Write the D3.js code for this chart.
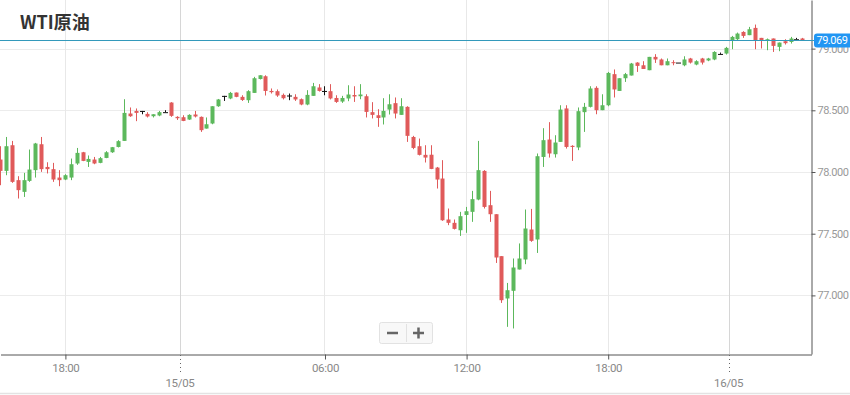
<!DOCTYPE html>
<html>
<head>
<meta charset="utf-8">
<script src="https://cdn.jsdelivr.net/npm/d3@7"></script>
<style>
    body { margin: 0; background: #fff; }
    svg { display: block; font-family: Roboto, "Noto Sans", sans-serif; }
</style>
</head>
<body>
<svg id="chart" width="850" height="395"></svg>
<script>
// WTI 15 min candles, 14/05 15:15 -> 16/05 03:00 (trading gap skipped)
const opens = [
    78.101, 78.009, 78.217, 77.934, 77.839, 77.928, 78.015, 78.225, 78.041, 78.023,
    77.955, 77.939, 77.955, 78.069, 78.160, 78.082, 78.101, 78.074, 78.114, 78.160,
    78.203, 78.252, 78.474, 78.495, 78.495, 78.471, 78.452, 78.458, 78.485, 78.563,
    78.447, 78.444, 78.425, 78.466, 78.447, 78.352, 78.393, 78.533, 78.617, 78.596,
    78.644, 78.609, 78.582, 78.641, 78.754, 78.776, 78.657, 78.655, 78.625, 78.620,
    78.609, 78.590, 78.547, 78.617, 78.685, 78.657, 78.655, 78.600, 78.571, 78.596,
    78.624, 78.614, 78.614, 78.485, 78.460, 78.442, 78.506, 78.558, 78.463, 78.528,
    78.284, 78.209, 78.139, 78.140, 78.036, 77.947, 77.615, 77.588, 77.528, 77.652,
    77.677, 77.777, 78.009, 77.731, 77.658, 77.318, 76.975, 77.037, 77.210, 77.291,
    77.534, 77.453, 78.122, 78.263, 78.144, 78.244, 78.515, 78.212, 78.199, 78.485,
    78.528, 78.682, 78.501, 78.541, 78.793, 78.657, 78.760, 78.782, 78.887, 78.865,
    78.825, 78.933, 78.912, 78.865, 78.890, 78.887, 78.865, 78.920, 78.871, 78.920,
    78.904, 78.912, 78.957, 78.960, 79.068, 79.076, 79.135, 79.109, 79.168, 79.087,
    79.066, 79.082, 79.014, 79.060, 79.054, 79.076, 79.082
];
const highs = [
    78.209, 78.284, 78.252, 77.966, 77.993, 78.182, 78.236, 78.284, 78.079, 78.074,
    78.015, 77.982, 78.109, 78.195, 78.163, 78.134, 78.122, 78.122, 78.169, 78.203,
    78.258, 78.590, 78.523, 78.515, 78.495, 78.485, 78.468, 78.495, 78.501, 78.566,
    78.452, 78.460, 78.468, 78.495, 78.450, 78.442, 78.533, 78.592, 78.617, 78.649,
    78.644, 78.622, 78.663, 78.771, 78.784, 78.784, 78.677, 78.669, 78.636, 78.636,
    78.630, 78.596, 78.663, 78.722, 78.712, 78.695, 78.712, 78.622, 78.617, 78.703,
    78.695, 78.712, 78.630, 78.566, 78.509, 78.598, 78.630, 78.604, 78.598, 78.533,
    78.293, 78.271, 78.217, 78.217, 78.041, 78.096, 77.704, 77.615, 77.677, 77.717,
    77.847, 78.252, 78.015, 77.847, 77.658, 77.318, 77.101, 77.299, 77.421, 77.696,
    77.701, 78.150, 78.355, 78.404, 78.298, 78.541, 78.541, 78.217, 78.523, 78.560,
    78.695, 78.695, 78.630, 78.811, 78.831, 78.760, 78.803, 78.884, 78.890, 78.898,
    78.933, 78.955, 78.920, 78.920, 78.906, 78.887, 78.938, 78.925, 78.906, 78.925,
    78.925, 78.979, 78.968, 79.014, 79.103, 79.130, 79.141, 79.176, 79.195, 79.087,
    79.082, 79.082, 79.049, 79.076, 79.095, 79.087, 79.087
];
const lows = [
    77.893, 77.974, 77.912, 77.785, 77.798, 77.920, 77.955, 78.001, 77.988, 77.920,
    77.885, 77.934, 77.934, 78.058, 78.088, 78.041, 78.063, 78.071, 78.112, 78.155,
    78.199, 78.252, 78.447, 78.412, 78.468, 78.442, 78.442, 78.452, 78.485, 78.447,
    78.422, 78.412, 78.422, 78.442, 78.325, 78.352, 78.387, 78.528, 78.576, 78.590,
    78.606, 78.576, 78.560, 78.641, 78.750, 78.620, 78.636, 78.609, 78.588, 78.582,
    78.576, 78.541, 78.541, 78.617, 78.652, 78.622, 78.588, 78.560, 78.560, 78.574,
    78.568, 78.590, 78.442, 78.434, 78.366, 78.385, 78.466, 78.434, 78.463, 78.244,
    78.185, 78.134, 78.077, 78.023, 77.866, 77.604, 77.569, 77.534, 77.482, 77.507,
    77.596, 77.771, 77.704, 77.596, 77.263, 76.939, 76.745, 76.732, 77.210, 77.253,
    77.434, 77.344, 78.041, 78.117, 78.117, 78.244, 78.190, 78.090, 78.177, 78.325,
    78.523, 78.468, 78.501, 78.533, 78.604, 78.657, 78.730, 78.782, 78.811, 78.835,
    78.825, 78.884, 78.865, 78.865, 78.865, 78.887, 78.857, 78.879, 78.865, 78.871,
    78.898, 78.906, 78.957, 78.952, 78.995, 79.068, 79.087, 79.109, 78.995, 79.001,
    78.987, 78.973, 78.979, 79.033, 79.041, 79.076, 79.066
];
const closes = [
    78.009, 78.209, 77.920, 77.853, 77.934, 78.020, 78.231, 78.023, 78.023, 77.939,
    77.934, 77.974, 78.063, 78.155, 78.090, 78.106, 78.069, 78.112, 78.160, 78.201,
    78.250, 78.479, 78.452, 78.479, 78.495, 78.450, 78.468, 78.485, 78.485, 78.455,
    78.436, 78.414, 78.463, 78.450, 78.339, 78.387, 78.533, 78.588, 78.617, 78.641,
    78.609, 78.584, 78.655, 78.760, 78.784, 78.657, 78.647, 78.620, 78.598, 78.620,
    78.588, 78.547, 78.625, 78.695, 78.657, 78.657, 78.596, 78.568, 78.600, 78.628,
    78.612, 78.628, 78.487, 78.463, 78.438, 78.495, 78.549, 78.474, 78.533, 78.293,
    78.195, 78.139, 78.117, 78.025, 77.939, 77.609, 77.588, 77.539, 77.642, 77.682,
    77.780, 78.015, 77.717, 77.658, 77.307, 76.961, 77.042, 77.226, 77.299, 77.542,
    77.442, 78.128, 78.258, 78.150, 78.239, 78.506, 78.203, 78.203, 78.493, 78.528,
    78.677, 78.501, 78.541, 78.803, 78.669, 78.760, 78.793, 78.879, 78.860, 78.835,
    78.933, 78.912, 78.865, 78.898, 78.884, 78.887, 78.912, 78.887, 78.898, 78.887,
    78.920, 78.973, 78.957, 79.006, 79.095, 79.122, 79.103, 79.157, 79.068, 79.068,
    79.076, 79.022, 79.049, 79.044, 79.082, 79.076, 79.069
];

const yTicks = [77.0, 77.5, 78.0, 78.5, 79.0];
const timeTickLabels = ["18:00", "06:00", "12:00", "18:00"];
const timeTickIdx = [11, 55, 79, 103];
const dateTickLabels = ["15/05", "16/05"];
const dateTickIdx = [30.5, 123.5];
const lastPrice = 79.069;
const title = "WTI原油";

const svg = d3.select("#chart");
const attr_area = { width: 850, height: 395, plotRight: 811, plotBottom: 354 };

const candles = opens.map((o, i) => ({ i: i, o: o, h: highs[i], l: lows[i], c: closes[i] }));

const scaleX = d3.scaleLinear()
    .domain([0, 137.46])
    .range([0, attr_area.plotRight]);

const scaleY = d3.scaleLinear()
    .domain([76.525, 79.394])
    .range([attr_area.plotBottom, 0]);

// grid
const grid = svg.append("g");
grid.selectAll(".hgrid")
    .data(yTicks)
    .enter()
    .append("line")
    .attr("x1", 0)
    .attr("x2", attr_area.plotRight)
    .attr("y1", d => Math.round(scaleY(d)) + 0.5)
    .attr("y2", d => Math.round(scaleY(d)) + 0.5)
    .attr("stroke", "#ececec");

grid.selectAll(".vgrid")
    .data(timeTickIdx)
    .enter()
    .append("line")
    .attr("x1", d => Math.round(scaleX(d)) + 0.5)
    .attr("x2", d => Math.round(scaleX(d)) + 0.5)
    .attr("y1", 0)
    .attr("y2", attr_area.plotBottom)
    .attr("stroke", "#e8e8e8");

grid.selectAll(".dgrid")
    .data(dateTickIdx)
    .enter()
    .append("line")
    .attr("x1", d => Math.round(scaleX(d)) + 0.5)
    .attr("x2", d => Math.round(scaleX(d)) + 0.5)
    .attr("y1", 0)
    .attr("y2", attr_area.plotBottom)
    .attr("stroke", "#d6d6d6");

// title
svg.append("text")
    .attr("x", 20)
    .attr("y", 28.5)
    .attr("font-family", "'Noto Sans CJK SC', 'Noto Sans', sans-serif")
    .attr("font-weight", "bold")
    .attr("font-size", 18)
    .attr("fill", "#333")
    .text(title);

// candles
const colorOf = d => d.c > d.o ? "#5cb85c" : (d.c < d.o ? "#e05a5a" : "#111");
const cg = svg.append("g");

cg.selectAll(".wick")
    .data(candles)
    .enter()
    .append("line")
    .attr("x1", d => Math.round(scaleX(d.i)) + 0.5)
    .attr("x2", d => Math.round(scaleX(d.i)) + 0.5)
    .attr("y1", d => scaleY(d.h))
    .attr("y2", d => scaleY(d.l))
    .attr("stroke", colorOf)
    .attr("stroke-width", 1);

cg.selectAll(".body")
    .data(candles)
    .enter()
    .append("rect")
    .attr("x", d => Math.round(scaleX(d.i)) - 1.5)
    .attr("y", d => scaleY(Math.max(d.o, d.c)))
    .attr("width", d => d.o === d.c ? 5 : 4)
    .attr("height", d => Math.max(1, Math.abs(scaleY(d.o) - scaleY(d.c))))
    .attr("transform", d => d.o === d.c ? "translate(-0.5,0)" : null)
    .attr("fill", colorOf);

// x axis
const axisX = d3.axisBottom(scaleX)
    .tickValues(timeTickIdx)
    .tickFormat((d, i) => timeTickLabels[i])
    .tickSize(5)
    .tickSizeOuter(0)
    .tickPadding(4);

const gx = svg.append("g")
    .attr("transform", `translate(0.5, ${attr_area.plotBottom + 0.5})`)
    .call(axisX);
gx.select(".domain").attr("stroke", "#555");
gx.selectAll(".tick line").attr("stroke", "#555");
gx.selectAll("text")
    .attr("fill", "#888")
    .attr("font-size", 11.5)
    .attr("letter-spacing", "-0.3px")
    .attr("font-family", "Roboto, sans-serif");

const dg = svg.append("g");
dg.selectAll("line")
    .data(dateTickIdx)
    .enter()
    .append("line")
    .attr("x1", d => Math.round(scaleX(d)) + 0.5)
    .attr("x2", d => Math.round(scaleX(d)) + 0.5)
    .attr("y1", attr_area.plotBottom + 1)
    .attr("y2", attr_area.plotBottom + 19)
    .attr("stroke", "#666")
    .attr("stroke-dasharray", "1,3");
dg.selectAll("text")
    .data(dateTickIdx)
    .enter()
    .append("text")
    .attr("x", d => scaleX(d))
    .attr("y", 386.5)
    .attr("text-anchor", "middle")
    .attr("fill", "#888")
    .attr("font-size", 11.5)
    .attr("letter-spacing", "-0.3px")
    .text((d, i) => dateTickLabels[i]);

// y axis
const axisY = d3.axisRight(scaleY)
    .tickValues(yTicks)
    .tickFormat(d3.format(".3f"))
    .tickSize(4)
    .tickSizeOuter(0)
    .tickPadding(2);

const gy = svg.append("g")
    .attr("transform", `translate(${attr_area.plotRight + 0.5}, 0)`)
    .call(axisY);
gy.select(".domain").attr("stroke", "#555");
gy.selectAll(".tick line").attr("stroke", "#555");
gy.selectAll("text")
    .attr("fill", "#999")
    .attr("font-size", 11)
    .attr("letter-spacing", "-0.5px")
    .attr("font-family", "Roboto, sans-serif");

// last price line + label
const yLast = Math.round(scaleY(lastPrice)) + 0.5;
svg.append("line")
    .attr("x1", 0)
    .attr("x2", 816)
    .attr("y1", yLast)
    .attr("y2", yLast)
    .attr("stroke", "#3399bb")
    .attr("stroke-width", 1.2);

svg.append("rect")
    .attr("x", 814)
    .attr("y", yLast - 7)
    .attr("width", 42)
    .attr("height", 14)
    .attr("rx", 3)
    .attr("fill", "#2196f3");

svg.append("text")
    .attr("x", 816.5)
    .attr("y", yLast)
    .attr("dy", "0.35em")
    .attr("fill", "#fff")
    .attr("font-size", 11)
    .attr("letter-spacing", "-0.5px")
    .attr("font-family", "Roboto, sans-serif")
    .text(d3.format(".3f")(lastPrice));

// zoom buttons
const zb = svg.append("g");
zb.append("rect")
    .attr("x", 379.5)
    .attr("y", 322.5)
    .attr("width", 53)
    .attr("height", 21)
    .attr("rx", 2)
    .attr("fill", "#f8f8f8")
    .attr("stroke", "#e2e2e2");
zb.append("line")
    .attr("x1", 406.5).attr("x2", 406.5)
    .attr("y1", 324).attr("y2", 342)
    .attr("stroke", "#e2e2e2");
zb.append("line")
    .attr("x1", 387).attr("x2", 398)
    .attr("y1", 333).attr("y2", 333)
    .attr("stroke", "#666").attr("stroke-width", 2.5);
zb.append("line")
    .attr("x1", 413).attr("x2", 424)
    .attr("y1", 333).attr("y2", 333)
    .attr("stroke", "#666").attr("stroke-width", 2.5);
zb.append("line")
    .attr("x1", 418.5).attr("x2", 418.5)
    .attr("y1", 327.5).attr("y2", 338.5)
    .attr("stroke", "#666").attr("stroke-width", 2.5);

// bottom border
svg.append("line")
    .attr("x1", 0)
    .attr("x2", attr_area.width)
    .attr("y1", 393.5)
    .attr("y2", 393.5)
    .attr("stroke", "#e3e3e3")
    .attr("stroke-width", 1.5);
</script>
</body>
</html>
